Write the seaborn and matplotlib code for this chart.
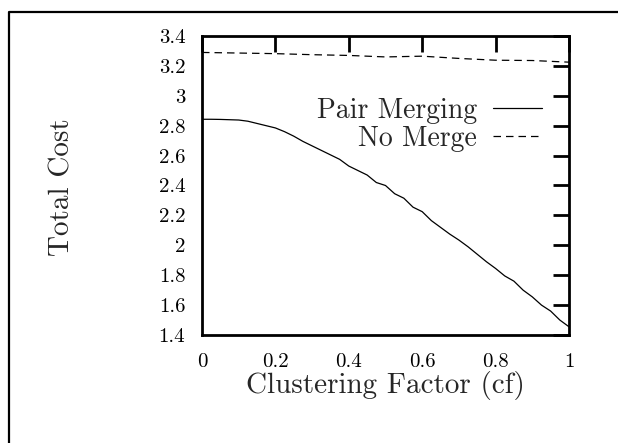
import matplotlib
matplotlib.use("Agg")
import matplotlib.pyplot as plt
from matplotlib.lines import Line2D
import seaborn as sns
import pandas as pd

# ---- data ----
cf_pair = [0.0, 0.025, 0.05, 0.075, 0.1, 0.125, 0.15, 0.175, 0.2, 0.225,
           0.25, 0.275, 0.3, 0.325, 0.35, 0.375, 0.4, 0.425, 0.45, 0.475,
           0.5, 0.525, 0.55, 0.575, 0.6, 0.625, 0.65, 0.675, 0.7, 0.725,
           0.75, 0.775, 0.8, 0.825, 0.85, 0.875, 0.9, 0.925, 0.95, 0.975, 1.0]
cost_pair = [2.843, 2.843, 2.842, 2.840, 2.838, 2.830, 2.815, 2.800, 2.785, 2.760,
             2.730, 2.695, 2.665, 2.635, 2.605, 2.575, 2.530, 2.500, 2.470, 2.420,
             2.400, 2.345, 2.315, 2.255, 2.225, 2.165, 2.120, 2.075, 2.035, 1.990,
             1.940, 1.890, 1.845, 1.795, 1.760, 1.700, 1.655, 1.600, 1.560, 1.500, 1.455]
cf_nomerge = [0.0, 0.1, 0.2, 0.3, 0.4, 0.5, 0.6, 0.7, 0.8, 0.9, 1.0]
cost_nomerge = [3.290, 3.286, 3.282, 3.275, 3.270, 3.260, 3.265, 3.250, 3.238, 3.236, 3.225]
series_names = ["Pair Merging", "No Merge"]
x_ticks = [0, 0.2, 0.4, 0.6, 0.8, 1]
x_tick_labels = ["0", "0.2", "0.4", "0.6", "0.8", "1"]
y_ticks = [1.4, 1.6, 1.8, 2.0, 2.2, 2.4, 2.6, 2.8, 3.0, 3.2, 3.4]
y_tick_labels = ["1.4", "1.6", "1.8", "2", "2.2", "2.4", "2.6", "2.8", "3", "3.2", "3.4"]
x_label = "Clustering Factor (cf)"
y_label = "Total Cost"

sns.set_style("white")
plt.rcParams["font.family"] = ["cmr10", "DejaVu Serif"]
plt.rcParams["axes.formatter.use_mathtext"] = True

fig = plt.figure(figsize=(6.18, 4.43), dpi=100)
ax = fig.add_axes([202/618, 1-335/443, (569-202)/618, (335-36)/443])

df_pair = pd.DataFrame({"cf": cf_pair, "cost": cost_pair})
df_nm = pd.DataFrame({"cf": cf_nomerge, "cost": cost_nomerge})
sns.lineplot(data=df_pair, x="cf", y="cost", ax=ax, color="black", lw=0.9,
             label=series_names[0])
sns.lineplot(data=df_nm, x="cf", y="cost", ax=ax, color="black", lw=0.9,
             linestyle=(0, (6, 4)), label=series_names[1])

ax.set_xlim(0, 1)
ax.set_ylim(1.4, 3.4)
ax.set_xticks(x_ticks)
ax.set_xticklabels(x_tick_labels)
ax.set_yticks(y_ticks)
ax.set_yticklabels(y_tick_labels)
ax.tick_params(direction="in", length=11.5, width=2, top=True, right=True,
               labelsize=15, colors="black")
ax.tick_params(axis="y", pad=12)
ax.tick_params(axis="x", pad=13)
for s in ax.spines.values():
    s.set_linewidth(2)
    s.set_color("black")

ax.set_xlabel(x_label, fontsize=21)
ax.set_ylabel(y_label, fontsize=21)
ax.xaxis.set_label_coords(0.5, -0.12)
ax.yaxis.set_label_coords(-0.345, 0.495)

leg = ax.legend(loc="upper right", bbox_to_anchor=(0.926, 0.795), frameon=False,
                markerfirst=False, fontsize=20, handlelength=1.75,
                handletextpad=0.58, labelspacing=0.06, borderpad=0,
                borderaxespad=0)

# outer frame
fig.add_artist(Line2D([9/618, 9/618, 1.0], [0.0, 1-12/443, 1-12/443],
                      transform=fig.transFigure, color="black", lw=1.6))

fig.savefig("out.png", dpi=100)
